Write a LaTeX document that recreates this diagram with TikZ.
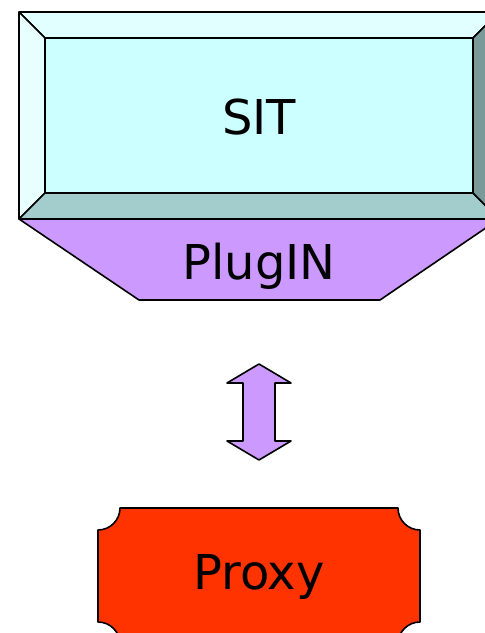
\documentclass[tikz,border=0pt]{standalone}
\usepackage{fontspec}
\setmainfont{DejaVu Sans}
\definecolor{sitface}{HTML}{CCFFFF}
\definecolor{sittop}{HTML}{E2FFFF}
\definecolor{sitleft}{HTML}{E8FFFF}
\definecolor{sitbottom}{HTML}{A3CCCC}
\definecolor{sitright}{HTML}{7A9999}
\definecolor{plugcol}{HTML}{CC99FF}
\definecolor{proxycol}{HTML}{FF3300}
\tikzset{
  bordo/.style={draw=black, line width=1.6pt, line join=round},
  etichetta/.style={font=\fontsize{48}{50}\selectfont, anchor=base, inner sep=0pt}
}
\begin{document}
\begin{tikzpicture}[x=1pt, y=1pt]
        % Area del disegno
        \useasboundingbox (0,0) rectangle (485,633);
        \clip (0,0) rectangle (485,633);

        % Blocco SIT (rilievo)
        \coordinate (oTL) at (19,621);  \coordinate (oTR) at (499,621);
        \coordinate (oBL) at (19,414);  \coordinate (oBR) at (499,414);
        \coordinate (iTL) at (45,595);  \coordinate (iTR) at (473,595);
        \coordinate (iBL) at (45,440);  \coordinate (iBR) at (473,440);
        \filldraw[bordo, fill=sittop] (oTL) -- (oTR) -- (iTR) -- (iTL) -- cycle;
        \filldraw[bordo, fill=sitleft] (oTL) -- (iTL) -- (iBL) -- (oBL) -- cycle;
        \filldraw[bordo, fill=sitbottom] (oBL) -- (iBL) -- (iBR) -- (oBR) -- cycle;
        \filldraw[bordo, fill=sitright] (oTR) -- (oBR) -- (iBR) -- (iTR) -- cycle;
        \filldraw[bordo, fill=sitface] (iTL) rectangle (iBR);
        \node[etichetta] (sit) at (259,498) {SIT};

        % PlugIN (trapezio sotto il blocco)
        \filldraw[bordo, fill=plugcol] (oBL) -- (oBR) -- (380,333) -- (139,333) -- cycle;
        \node[etichetta] (plugin) at (259,353) {PlugIN};

        % Freccia doppia
        \filldraw[bordo, fill=plugcol] (259,269) -- (291,250) -- (275,250) -- (275,192)
            -- (291,192) -- (259,173) -- (227,192) -- (243,192) -- (243,250)
            -- (227,250) -- cycle;

        % Proxy (angoli concavi)
        \filldraw[bordo, fill=proxycol] (120,125) -- (398,125)
            arc[start angle=180, end angle=270, radius=22] -- (420,11)
            arc[start angle=90, end angle=180, radius=22] -- (120,-11)
            arc[start angle=0, end angle=90, radius=22] -- (98,103)
            arc[start angle=270, end angle=360, radius=22] -- cycle;
        \node[etichetta] (proxy) at (259,43) {Proxy};

    \end{tikzpicture}
\end{document}
